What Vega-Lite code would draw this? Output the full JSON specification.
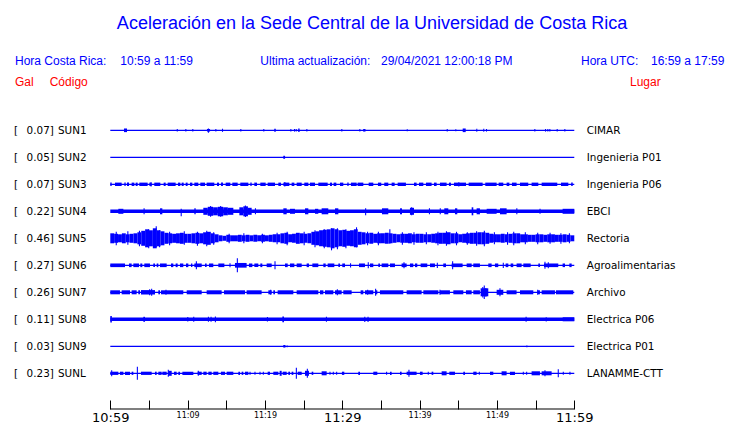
{
"$schema":"https://vega.github.io/schema/vega-lite/v6.json",
"width":740,"height":423,"autosize":{"type":"none"},"padding":0,"background":"white",
"config":{"view":{"stroke":null},"text":{"font":"DejaVu Sans"}},
"datasets":{
"one":[{}],
"sta":[{"s":"SUN1","peak":0.07,"lugar":"CIMAR"},{"s":"SUN2","peak":0.05,"lugar":"Ingenieria P01"},{"s":"SUN3","peak":0.07,"lugar":"Ingenieria P06"},{"s":"SUN4","peak":0.22,"lugar":"EBCI"},{"s":"SUN5","peak":0.46,"lugar":"Rectoria"},{"s":"SUN6","peak":0.27,"lugar":"Agroalimentarias"},{"s":"SUN7","peak":0.26,"lugar":"Archivo"},{"s":"SUN8","peak":0.11,"lugar":"Electrica P06"},{"s":"SUN9","peak":0.03,"lugar":"Electrica P01"},{"s":"SUNL","peak":0.23,"lugar":"LANAMME-CTT"}],
"tr":[
{"s":"SUN1","t0":0,"t1":60,"lo":-0.025,"hi":0.025},
{"s":"SUN1","t0":1.77,"t1":2.16,"lo":-0.07,"hi":0.07},
{"s":"SUN1","t0":8.59,"t1":8.73,"lo":-0.05,"hi":0.05},
{"s":"SUN1","t0":9.7,"t1":9.84,"lo":-0.05,"hi":0.05},
{"s":"SUN1","t0":10.6,"t1":10.74,"lo":-0.05,"hi":0.05},
{"s":"SUN1","t0":12.5,"t1":12.9,"lo":-0.05,"hi":0.05},
{"s":"SUN1","t0":12.62,"t1":12.76,"lo":-0.09,"hi":0.07},
{"s":"SUN1","t0":13.58,"t1":13.72,"lo":-0.05,"hi":0.05},
{"s":"SUN1","t0":14.44,"t1":14.58,"lo":-0.06,"hi":0.06},
{"s":"SUN1","t0":16.81,"t1":16.95,"lo":-0.05,"hi":0.05},
{"s":"SUN1","t0":19.78,"t1":19.92,"lo":-0.05,"hi":0.05},
{"s":"SUN1","t0":21.2,"t1":21.4,"lo":-0.06,"hi":0.06},
{"s":"SUN1","t0":23.28,"t1":23.42,"lo":-0.05,"hi":0.05},
{"s":"SUN1","t0":23.75,"t1":23.89,"lo":-0.05,"hi":0.05},
{"s":"SUN1","t0":23.97,"t1":24.11,"lo":-0.05,"hi":0.05},
{"s":"SUN1","t0":24.3,"t1":24.48,"lo":-0.07,"hi":0.07},
{"s":"SUN1","t0":25.35,"t1":25.49,"lo":-0.05,"hi":0.05},
{"s":"SUN1","t0":29.87,"t1":30.01,"lo":-0.05,"hi":0.05},
{"s":"SUN1","t0":32.2,"t1":32.34,"lo":-0.05,"hi":0.05},
{"s":"SUN1","t0":32.7,"t1":33.0,"lo":-0.05,"hi":0.05},
{"s":"SUN1","t0":38.33,"t1":38.47,"lo":-0.04,"hi":0.04},
{"s":"SUN1","t0":43.5,"t1":43.64,"lo":-0.05,"hi":0.05},
{"s":"SUN1","t0":44.61,"t1":44.75,"lo":-0.04,"hi":0.04},
{"s":"SUN1","t0":45.57,"t1":45.96,"lo":-0.07,"hi":0.07},
{"s":"SUN1","t0":47.33,"t1":47.46,"lo":-0.06,"hi":0.06},
{"s":"SUN1","t0":48.23,"t1":48.36,"lo":-0.06,"hi":0.06},
{"s":"SUN1","t0":48.58,"t1":48.72,"lo":-0.05,"hi":0.05},
{"s":"SUN1","t0":54.83,"t1":54.97,"lo":-0.05,"hi":0.05},
{"s":"SUN1","t0":56.21,"t1":56.35,"lo":-0.05,"hi":0.05},
{"s":"SUN1","t0":56.51,"t1":56.65,"lo":-0.05,"hi":0.05},
{"s":"SUN1","t0":56.77,"t1":56.91,"lo":-0.05,"hi":0.05},
{"s":"SUN1","t0":57.72,"t1":57.86,"lo":-0.05,"hi":0.05},
{"s":"SUN1","t0":58.71,"t1":58.85,"lo":-0.05,"hi":0.05},
{"s":"SUN2","t0":0,"t1":60,"lo":-0.025,"hi":0.025},
{"s":"SUN2","t0":22.37,"t1":22.6,"lo":-0.058,"hi":0.058},
{"s":"SUN3","t0":0,"t1":60,"lo":-0.025,"hi":0.025},
{"s":"SUN3","t0":0,"t1":0.18,"lo":-0.065,"hi":0.065},
{"s":"SUN3","t0":0.61,"t1":1.47,"lo":-0.065,"hi":0.065},
{"s":"SUN3","t0":1.82,"t1":1.99,"lo":-0.065,"hi":0.065},
{"s":"SUN3","t0":2.16,"t1":2.42,"lo":-0.065,"hi":0.065},
{"s":"SUN3","t0":2.76,"t1":3.11,"lo":-0.065,"hi":0.065},
{"s":"SUN3","t0":3.28,"t1":3.54,"lo":-0.065,"hi":0.065},
{"s":"SUN3","t0":3.75,"t1":4.83,"lo":-0.065,"hi":0.065},
{"s":"SUN3","t0":5.05,"t1":5.35,"lo":-0.065,"hi":0.065},
{"s":"SUN3","t0":5.2,"t1":5.34,"lo":-0.08,"hi":0.08},
{"s":"SUN3","t0":5.69,"t1":6.47,"lo":-0.065,"hi":0.065},
{"s":"SUN3","t0":6.9,"t1":7.16,"lo":-0.065,"hi":0.065},
{"s":"SUN3","t0":7.42,"t1":8.45,"lo":-0.065,"hi":0.065},
{"s":"SUN3","t0":8.76,"t1":9.06,"lo":-0.065,"hi":0.065},
{"s":"SUN3","t0":9.23,"t1":9.49,"lo":-0.065,"hi":0.065},
{"s":"SUN3","t0":9.75,"t1":10.0,"lo":-0.065,"hi":0.065},
{"s":"SUN3","t0":10.31,"t1":10.61,"lo":-0.065,"hi":0.065},
{"s":"SUN3","t0":10.87,"t1":11.38,"lo":-0.065,"hi":0.065},
{"s":"SUN3","t0":11.64,"t1":12.25,"lo":-0.065,"hi":0.065},
{"s":"SUN3","t0":12.46,"t1":13.45,"lo":-0.065,"hi":0.065},
{"s":"SUN3","t0":13.8,"t1":14.06,"lo":-0.065,"hi":0.065},
{"s":"SUN3","t0":14.32,"t1":14.57,"lo":-0.065,"hi":0.065},
{"s":"SUN3","t0":14.92,"t1":15.52,"lo":-0.065,"hi":0.065},
{"s":"SUN3","t0":15.78,"t1":16.47,"lo":-0.065,"hi":0.065},
{"s":"SUN3","t0":16.81,"t1":17.85,"lo":-0.065,"hi":0.065},
{"s":"SUN3","t0":18.11,"t1":18.28,"lo":-0.065,"hi":0.065},
{"s":"SUN3","t0":18.63,"t1":18.97,"lo":-0.065,"hi":0.065},
{"s":"SUN3","t0":19.4,"t1":20.09,"lo":-0.065,"hi":0.065},
{"s":"SUN3","t0":20.35,"t1":21.3,"lo":-0.065,"hi":0.065},
{"s":"SUN3","t0":21.73,"t1":22.07,"lo":-0.065,"hi":0.065},
{"s":"SUN3","t0":22.38,"t1":23.15,"lo":-0.065,"hi":0.065},
{"s":"SUN3","t0":22.5,"t1":22.64,"lo":-0.085,"hi":0.085},
{"s":"SUN3","t0":23.45,"t1":23.8,"lo":-0.065,"hi":0.065},
{"s":"SUN3","t0":24.1,"t1":24.75,"lo":-0.065,"hi":0.065},
{"s":"SUN3","t0":25.09,"t1":25.61,"lo":-0.065,"hi":0.065},
{"s":"SUN3","t0":25.82,"t1":26.47,"lo":-0.065,"hi":0.065},
{"s":"SUN3","t0":26.9,"t1":28.11,"lo":-0.065,"hi":0.065},
{"s":"SUN3","t0":28.41,"t1":28.67,"lo":-0.065,"hi":0.065},
{"s":"SUN3","t0":28.88,"t1":29.23,"lo":-0.065,"hi":0.065},
{"s":"SUN3","t0":29.7,"t1":30.13,"lo":-0.065,"hi":0.065},
{"s":"SUN3","t0":30.65,"t1":30.82,"lo":-0.065,"hi":0.065},
{"s":"SUN3","t0":31.12,"t1":31.86,"lo":-0.065,"hi":0.065},
{"s":"SUN3","t0":31.98,"t1":32.72,"lo":-0.065,"hi":0.065},
{"s":"SUN3","t0":33.41,"t1":34.01,"lo":-0.065,"hi":0.065},
{"s":"SUN3","t0":34.61,"t1":35.04,"lo":-0.065,"hi":0.065},
{"s":"SUN3","t0":35.43,"t1":35.95,"lo":-0.065,"hi":0.065},
{"s":"SUN3","t0":36.38,"t1":36.77,"lo":-0.065,"hi":0.065},
{"s":"SUN3","t0":37.16,"t1":38.23,"lo":-0.065,"hi":0.065},
{"s":"SUN3","t0":39.27,"t1":39.61,"lo":-0.065,"hi":0.065},
{"s":"SUN3","t0":39.92,"t1":40.48,"lo":-0.065,"hi":0.065},
{"s":"SUN3","t0":40.82,"t1":41.55,"lo":-0.065,"hi":0.065},
{"s":"SUN3","t0":41.86,"t1":42.2,"lo":-0.065,"hi":0.065},
{"s":"SUN3","t0":42.63,"t1":43.49,"lo":-0.065,"hi":0.065},
{"s":"SUN3","t0":43.79,"t1":44.05,"lo":-0.065,"hi":0.065},
{"s":"SUN3","t0":44.44,"t1":46.0,"lo":-0.065,"hi":0.065},
{"s":"SUN3","t0":45.0,"t1":45.14,"lo":-0.08,"hi":0.08},
{"s":"SUN3","t0":46.34,"t1":48.15,"lo":-0.065,"hi":0.065},
{"s":"SUN3","t0":48.49,"t1":49.96,"lo":-0.065,"hi":0.065},
{"s":"SUN3","t0":50.22,"t1":50.82,"lo":-0.065,"hi":0.065},
{"s":"SUN3","t0":51.25,"t1":51.6,"lo":-0.065,"hi":0.065},
{"s":"SUN3","t0":51.94,"t1":52.54,"lo":-0.065,"hi":0.065},
{"s":"SUN3","t0":52.98,"t1":54.05,"lo":-0.065,"hi":0.065},
{"s":"SUN3","t0":54.48,"t1":55.35,"lo":-0.065,"hi":0.065},
{"s":"SUN3","t0":55.78,"t1":57.8,"lo":-0.065,"hi":0.065},
{"s":"SUN3","t0":58.28,"t1":59.23,"lo":-0.065,"hi":0.065},
{"s":"SUN3","t0":59.6,"t1":59.8,"lo":-0.065,"hi":0.065},
{"s":"SUN4","t0":0,"t1":60,"lo":-0.065,"hi":0.065},
{"s":"SUN4","t0":1.04,"t1":1.69,"lo":-0.096,"hi":0.096},
{"s":"SUN4","t0":4.3,"t1":4.44,"lo":-0.115,"hi":0.115},
{"s":"SUN4","t0":6.43,"t1":6.73,"lo":-0.115,"hi":0.115},
{"s":"SUN4","t0":9.1,"t1":9.24,"lo":-0.192,"hi":0.1},
{"s":"SUN4","t0":10.87,"t1":11.04,"lo":-0.115,"hi":0.115},
{"s":"SUN4","t0":12.03,"t1":12.6,"lo":-0.135,"hi":0.135},
{"s":"SUN4","t0":12.6,"t1":13.3,"lo":-0.173,"hi":0.173},
{"s":"SUN4","t0":13.3,"t1":13.9,"lo":-0.154,"hi":0.154},
{"s":"SUN4","t0":13.9,"t1":14.6,"lo":-0.192,"hi":0.173},
{"s":"SUN4","t0":14.6,"t1":15.2,"lo":-0.154,"hi":0.154},
{"s":"SUN4","t0":15.2,"t1":15.91,"lo":-0.135,"hi":0.135},
{"s":"SUN4","t0":12.9,"t1":13.04,"lo":-0.212,"hi":0.2},
{"s":"SUN4","t0":14.2,"t1":14.34,"lo":-0.212,"hi":0.2},
{"s":"SUN4","t0":16.69,"t1":17.2,"lo":-0.154,"hi":0.154},
{"s":"SUN4","t0":17.2,"t1":17.8,"lo":-0.192,"hi":0.192},
{"s":"SUN4","t0":17.8,"t1":18.28,"lo":-0.135,"hi":0.135},
{"s":"SUN4","t0":17.4,"t1":17.54,"lo":-0.22,"hi":0.22},
{"s":"SUN4","t0":18.7,"t1":18.84,"lo":-0.115,"hi":0.115},
{"s":"SUN4","t0":22.38,"t1":22.81,"lo":-0.115,"hi":0.115},
{"s":"SUN4","t0":23.24,"t1":23.88,"lo":-0.096,"hi":0.096},
{"s":"SUN4","t0":25.18,"t1":25.61,"lo":-0.115,"hi":0.115},
{"s":"SUN4","t0":26.47,"t1":26.9,"lo":-0.096,"hi":0.096},
{"s":"SUN4","t0":27.33,"t1":28.19,"lo":-0.115,"hi":0.115},
{"s":"SUN4","t0":29.06,"t1":29.49,"lo":-0.115,"hi":0.115},
{"s":"SUN4","t0":32.95,"t1":33.09,"lo":-0.154,"hi":0.115},
{"s":"SUN4","t0":35.13,"t1":35.95,"lo":-0.115,"hi":0.115},
{"s":"SUN4","t0":37.46,"t1":37.72,"lo":-0.115,"hi":0.115},
{"s":"SUN4","t0":38.75,"t1":39.27,"lo":-0.135,"hi":0.135},
{"s":"SUN4","t0":38.9,"t1":39.04,"lo":-0.154,"hi":0.154},
{"s":"SUN4","t0":41.2,"t1":41.34,"lo":-0.115,"hi":0.115},
{"s":"SUN4","t0":42.6,"t1":42.74,"lo":-0.115,"hi":0.115},
{"s":"SUN4","t0":43.19,"t1":43.71,"lo":-0.115,"hi":0.115},
{"s":"SUN4","t0":44.57,"t1":44.87,"lo":-0.115,"hi":0.115},
{"s":"SUN4","t0":46.73,"t1":46.94,"lo":-0.154,"hi":0.154},
{"s":"SUN4","t0":47.37,"t1":47.8,"lo":-0.115,"hi":0.115},
{"s":"SUN4","t0":48.67,"t1":49.96,"lo":-0.096,"hi":0.096},
{"s":"SUN4","t0":50.39,"t1":51.25,"lo":-0.115,"hi":0.115},
{"s":"SUN4","t0":52.5,"t1":52.64,"lo":-0.115,"hi":0.115},
{"s":"SUN4","t0":55.5,"t1":55.64,"lo":-0.096,"hi":0.096},
{"s":"SUN4","t0":58.49,"t1":60,"lo":-0.096,"hi":0.096},
{"s":"SUN5","t0":0,"t1":0.5,"lo":-0.192,"hi":0.192},
{"s":"SUN5","t0":0.5,"t1":1,"lo":-0.173,"hi":0.173},
{"s":"SUN5","t0":1,"t1":1.5,"lo":-0.154,"hi":0.154},
{"s":"SUN5","t0":1.5,"t1":2,"lo":-0.192,"hi":0.192},
{"s":"SUN5","t0":2,"t1":2.5,"lo":-0.154,"hi":0.154},
{"s":"SUN5","t0":2.5,"t1":3,"lo":-0.173,"hi":0.173},
{"s":"SUN5","t0":3,"t1":3.5,"lo":-0.192,"hi":0.192},
{"s":"SUN5","t0":3.5,"t1":4,"lo":-0.231,"hi":0.231},
{"s":"SUN5","t0":4,"t1":4.5,"lo":-0.288,"hi":0.288},
{"s":"SUN5","t0":4.5,"t1":5,"lo":-0.346,"hi":0.346},
{"s":"SUN5","t0":5,"t1":5.5,"lo":-0.308,"hi":0.308},
{"s":"SUN5","t0":5.5,"t1":6,"lo":-0.385,"hi":0.385},
{"s":"SUN5","t0":6,"t1":6.5,"lo":-0.308,"hi":0.308},
{"s":"SUN5","t0":6.5,"t1":7,"lo":-0.269,"hi":0.269},
{"s":"SUN5","t0":7,"t1":7.5,"lo":-0.212,"hi":0.212},
{"s":"SUN5","t0":7.5,"t1":8,"lo":-0.192,"hi":0.192},
{"s":"SUN5","t0":8,"t1":8.5,"lo":-0.173,"hi":0.173},
{"s":"SUN5","t0":8.5,"t1":9,"lo":-0.192,"hi":0.192},
{"s":"SUN5","t0":9,"t1":9.5,"lo":-0.212,"hi":0.212},
{"s":"SUN5","t0":9.5,"t1":10,"lo":-0.173,"hi":0.173},
{"s":"SUN5","t0":10,"t1":10.5,"lo":-0.173,"hi":0.173},
{"s":"SUN5","t0":10.5,"t1":11,"lo":-0.192,"hi":0.192},
{"s":"SUN5","t0":11,"t1":11.5,"lo":-0.212,"hi":0.212},
{"s":"SUN5","t0":11.5,"t1":12,"lo":-0.192,"hi":0.192},
{"s":"SUN5","t0":12,"t1":12.5,"lo":-0.231,"hi":0.231},
{"s":"SUN5","t0":12.5,"t1":13,"lo":-0.25,"hi":0.25},
{"s":"SUN5","t0":13,"t1":13.5,"lo":-0.192,"hi":0.192},
{"s":"SUN5","t0":13.5,"t1":14,"lo":-0.154,"hi":0.154},
{"s":"SUN5","t0":14,"t1":14.5,"lo":-0.115,"hi":0.115},
{"s":"SUN5","t0":14.5,"t1":15,"lo":-0.096,"hi":0.096},
{"s":"SUN5","t0":15,"t1":15.5,"lo":-0.135,"hi":0.135},
{"s":"SUN5","t0":15.5,"t1":16,"lo":-0.115,"hi":0.115},
{"s":"SUN5","t0":16,"t1":16.5,"lo":-0.115,"hi":0.115},
{"s":"SUN5","t0":16.5,"t1":17,"lo":-0.135,"hi":0.135},
{"s":"SUN5","t0":17,"t1":17.5,"lo":-0.115,"hi":0.115},
{"s":"SUN5","t0":17.5,"t1":18,"lo":-0.135,"hi":0.135},
{"s":"SUN5","t0":18,"t1":18.5,"lo":-0.115,"hi":0.115},
{"s":"SUN5","t0":18.5,"t1":19,"lo":-0.135,"hi":0.135},
{"s":"SUN5","t0":19,"t1":19.5,"lo":-0.115,"hi":0.115},
{"s":"SUN5","t0":19.5,"t1":20,"lo":-0.135,"hi":0.135},
{"s":"SUN5","t0":20,"t1":20.5,"lo":-0.115,"hi":0.115},
{"s":"SUN5","t0":20.5,"t1":21,"lo":-0.135,"hi":0.135},
{"s":"SUN5","t0":21,"t1":21.5,"lo":-0.154,"hi":0.154},
{"s":"SUN5","t0":21.5,"t1":22,"lo":-0.154,"hi":0.154},
{"s":"SUN5","t0":22,"t1":22.5,"lo":-0.192,"hi":0.192},
{"s":"SUN5","t0":22.5,"t1":23,"lo":-0.212,"hi":0.212},
{"s":"SUN5","t0":23,"t1":23.5,"lo":-0.154,"hi":0.154},
{"s":"SUN5","t0":23.5,"t1":24,"lo":-0.173,"hi":0.173},
{"s":"SUN5","t0":24,"t1":24.5,"lo":-0.212,"hi":0.212},
{"s":"SUN5","t0":24.5,"t1":25,"lo":-0.192,"hi":0.192},
{"s":"SUN5","t0":25,"t1":25.5,"lo":-0.173,"hi":0.173},
{"s":"SUN5","t0":25.5,"t1":26,"lo":-0.192,"hi":0.192},
{"s":"SUN5","t0":26,"t1":26.5,"lo":-0.25,"hi":0.25},
{"s":"SUN5","t0":26.5,"t1":27,"lo":-0.269,"hi":0.269},
{"s":"SUN5","t0":27,"t1":27.5,"lo":-0.308,"hi":0.308},
{"s":"SUN5","t0":27.5,"t1":28,"lo":-0.327,"hi":0.327},
{"s":"SUN5","t0":28,"t1":28.5,"lo":-0.346,"hi":0.346},
{"s":"SUN5","t0":28.5,"t1":29,"lo":-0.385,"hi":0.385},
{"s":"SUN5","t0":29,"t1":29.5,"lo":-0.346,"hi":0.346},
{"s":"SUN5","t0":29.5,"t1":30,"lo":-0.308,"hi":0.308},
{"s":"SUN5","t0":30,"t1":30.5,"lo":-0.327,"hi":0.327},
{"s":"SUN5","t0":30.5,"t1":31,"lo":-0.288,"hi":0.288},
{"s":"SUN5","t0":31,"t1":31.5,"lo":-0.308,"hi":0.308},
{"s":"SUN5","t0":31.5,"t1":32,"lo":-0.346,"hi":0.346},
{"s":"SUN5","t0":32,"t1":32.5,"lo":-0.25,"hi":0.25},
{"s":"SUN5","t0":32.5,"t1":33,"lo":-0.231,"hi":0.231},
{"s":"SUN5","t0":33,"t1":33.5,"lo":-0.192,"hi":0.192},
{"s":"SUN5","t0":33.5,"t1":34,"lo":-0.212,"hi":0.212},
{"s":"SUN5","t0":34,"t1":34.5,"lo":-0.173,"hi":0.173},
{"s":"SUN5","t0":34.5,"t1":35,"lo":-0.192,"hi":0.192},
{"s":"SUN5","t0":35,"t1":35.5,"lo":-0.192,"hi":0.192},
{"s":"SUN5","t0":35.5,"t1":36,"lo":-0.212,"hi":0.212},
{"s":"SUN5","t0":36,"t1":36.5,"lo":-0.192,"hi":0.192},
{"s":"SUN5","t0":36.5,"t1":37,"lo":-0.173,"hi":0.173},
{"s":"SUN5","t0":37,"t1":37.5,"lo":-0.154,"hi":0.154},
{"s":"SUN5","t0":37.5,"t1":38,"lo":-0.173,"hi":0.173},
{"s":"SUN5","t0":38,"t1":38.5,"lo":-0.173,"hi":0.173},
{"s":"SUN5","t0":38.5,"t1":39,"lo":-0.192,"hi":0.192},
{"s":"SUN5","t0":39,"t1":39.5,"lo":-0.154,"hi":0.154},
{"s":"SUN5","t0":39.5,"t1":40,"lo":-0.173,"hi":0.173},
{"s":"SUN5","t0":40,"t1":40.5,"lo":-0.173,"hi":0.173},
{"s":"SUN5","t0":40.5,"t1":41,"lo":-0.154,"hi":0.154},
{"s":"SUN5","t0":41,"t1":41.5,"lo":-0.154,"hi":0.154},
{"s":"SUN5","t0":41.5,"t1":42,"lo":-0.173,"hi":0.173},
{"s":"SUN5","t0":42,"t1":42.5,"lo":-0.192,"hi":0.192},
{"s":"SUN5","t0":42.5,"t1":43,"lo":-0.212,"hi":0.212},
{"s":"SUN5","t0":43,"t1":43.5,"lo":-0.212,"hi":0.212},
{"s":"SUN5","t0":43.5,"t1":44,"lo":-0.231,"hi":0.231},
{"s":"SUN5","t0":44,"t1":44.5,"lo":-0.192,"hi":0.192},
{"s":"SUN5","t0":44.5,"t1":45,"lo":-0.192,"hi":0.192},
{"s":"SUN5","t0":45,"t1":45.5,"lo":-0.154,"hi":0.154},
{"s":"SUN5","t0":45.5,"t1":46,"lo":-0.173,"hi":0.173},
{"s":"SUN5","t0":46,"t1":46.5,"lo":-0.192,"hi":0.192},
{"s":"SUN5","t0":46.5,"t1":47,"lo":-0.212,"hi":0.212},
{"s":"SUN5","t0":47,"t1":47.5,"lo":-0.212,"hi":0.212},
{"s":"SUN5","t0":47.5,"t1":48,"lo":-0.231,"hi":0.231},
{"s":"SUN5","t0":48,"t1":48.5,"lo":-0.231,"hi":0.231},
{"s":"SUN5","t0":48.5,"t1":49,"lo":-0.212,"hi":0.212},
{"s":"SUN5","t0":49,"t1":49.5,"lo":-0.173,"hi":0.173},
{"s":"SUN5","t0":49.5,"t1":50,"lo":-0.154,"hi":0.154},
{"s":"SUN5","t0":50,"t1":50.5,"lo":-0.154,"hi":0.154},
{"s":"SUN5","t0":50.5,"t1":51,"lo":-0.173,"hi":0.173},
{"s":"SUN5","t0":51,"t1":51.5,"lo":-0.154,"hi":0.154},
{"s":"SUN5","t0":51.5,"t1":52,"lo":-0.173,"hi":0.173},
{"s":"SUN5","t0":52,"t1":52.5,"lo":-0.192,"hi":0.192},
{"s":"SUN5","t0":52.5,"t1":53,"lo":-0.192,"hi":0.192},
{"s":"SUN5","t0":53,"t1":53.5,"lo":-0.154,"hi":0.154},
{"s":"SUN5","t0":53.5,"t1":54,"lo":-0.154,"hi":0.154},
{"s":"SUN5","t0":54,"t1":54.5,"lo":-0.135,"hi":0.135},
{"s":"SUN5","t0":54.5,"t1":55,"lo":-0.135,"hi":0.135},
{"s":"SUN5","t0":55,"t1":55.5,"lo":-0.154,"hi":0.154},
{"s":"SUN5","t0":55.5,"t1":56,"lo":-0.154,"hi":0.154},
{"s":"SUN5","t0":56,"t1":56.5,"lo":-0.135,"hi":0.135},
{"s":"SUN5","t0":56.5,"t1":57,"lo":-0.154,"hi":0.154},
{"s":"SUN5","t0":57,"t1":57.5,"lo":-0.154,"hi":0.154},
{"s":"SUN5","t0":57.5,"t1":58,"lo":-0.135,"hi":0.135},
{"s":"SUN5","t0":58,"t1":58.5,"lo":-0.135,"hi":0.135},
{"s":"SUN5","t0":58.5,"t1":59,"lo":-0.154,"hi":0.154},
{"s":"SUN5","t0":59,"t1":59.5,"lo":-0.135,"hi":0.135},
{"s":"SUN5","t0":59.5,"t1":60,"lo":-0.115,"hi":0.115},
{"s":"SUN5","t0":0.7,"t1":0.84,"lo":-0.269,"hi":0.25},
{"s":"SUN5","t0":2.2,"t1":2.34,"lo":-0.25,"hi":0.269},
{"s":"SUN5","t0":3.7,"t1":3.84,"lo":-0.308,"hi":0.288},
{"s":"SUN5","t0":4.9,"t1":5.04,"lo":-0.385,"hi":0.346},
{"s":"SUN5","t0":5.87,"t1":6.01,"lo":-0.346,"hi":0.462},
{"s":"SUN5","t0":6.3,"t1":6.44,"lo":-0.346,"hi":0.308},
{"s":"SUN5","t0":7.6,"t1":7.74,"lo":-0.269,"hi":0.25},
{"s":"SUN5","t0":9.5,"t1":9.64,"lo":-0.25,"hi":0.269},
{"s":"SUN5","t0":11.2,"t1":11.34,"lo":-0.288,"hi":0.25},
{"s":"SUN5","t0":12.4,"t1":12.54,"lo":-0.308,"hi":0.288},
{"s":"SUN5","t0":13.3,"t1":13.44,"lo":-0.25,"hi":0.231},
{"s":"SUN5","t0":15.3,"t1":15.44,"lo":-0.192,"hi":0.173},
{"s":"SUN5","t0":17.2,"t1":17.34,"lo":-0.192,"hi":0.192},
{"s":"SUN5","t0":19.6,"t1":19.74,"lo":-0.192,"hi":0.173},
{"s":"SUN5","t0":21.5,"t1":21.64,"lo":-0.231,"hi":0.212},
{"s":"SUN5","t0":22.8,"t1":22.94,"lo":-0.269,"hi":0.25},
{"s":"SUN5","t0":25.0,"t1":25.14,"lo":-0.269,"hi":0.25},
{"s":"SUN5","t0":26.4,"t1":26.54,"lo":-0.346,"hi":0.308},
{"s":"SUN5","t0":27.6,"t1":27.74,"lo":-0.385,"hi":0.346},
{"s":"SUN5","t0":28.54,"t1":28.68,"lo":-0.462,"hi":0.385},
{"s":"SUN5","t0":29.3,"t1":29.44,"lo":-0.423,"hi":0.385},
{"s":"SUN5","t0":30.4,"t1":30.54,"lo":-0.385,"hi":0.346},
{"s":"SUN5","t0":31.77,"t1":31.91,"lo":-0.346,"hi":0.423},
{"s":"SUN5","t0":33.2,"t1":33.34,"lo":-0.269,"hi":0.25},
{"s":"SUN5","t0":34.6,"t1":34.74,"lo":-0.269,"hi":0.25},
{"s":"SUN5","t0":36.08,"t1":36.22,"lo":-0.212,"hi":0.346},
{"s":"SUN5","t0":37.7,"t1":37.84,"lo":-0.25,"hi":0.231},
{"s":"SUN5","t0":39.2,"t1":39.34,"lo":-0.25,"hi":0.231},
{"s":"SUN5","t0":40.8,"t1":40.94,"lo":-0.231,"hi":0.231},
{"s":"SUN5","t0":42.3,"t1":42.44,"lo":-0.269,"hi":0.25},
{"s":"SUN5","t0":43.4,"t1":43.54,"lo":-0.288,"hi":0.269},
{"s":"SUN5","t0":44.7,"t1":44.84,"lo":-0.269,"hi":0.25},
{"s":"SUN5","t0":46.1,"t1":46.24,"lo":-0.25,"hi":0.231},
{"s":"SUN5","t0":47.3,"t1":47.44,"lo":-0.288,"hi":0.269},
{"s":"SUN5","t0":48.3,"t1":48.44,"lo":-0.308,"hi":0.288},
{"s":"SUN5","t0":49.6,"t1":49.74,"lo":-0.231,"hi":0.231},
{"s":"SUN5","t0":51.3,"t1":51.44,"lo":-0.25,"hi":0.231},
{"s":"SUN5","t0":52.1,"t1":52.24,"lo":-0.269,"hi":0.25},
{"s":"SUN5","t0":53.6,"t1":53.74,"lo":-0.231,"hi":0.231},
{"s":"SUN5","t0":55.2,"t1":55.34,"lo":-0.231,"hi":0.212},
{"s":"SUN5","t0":56.8,"t1":56.94,"lo":-0.212,"hi":0.212},
{"s":"SUN5","t0":58.2,"t1":58.34,"lo":-0.212,"hi":0.192},
{"s":"SUN5","t0":59.3,"t1":59.44,"lo":-0.192,"hi":0.192},
{"s":"SUN6","t0":0,"t1":60,"lo":-0.025,"hi":0.025},
{"s":"SUN6","t0":0,"t1":1.9,"lo":-0.07,"hi":0.07},
{"s":"SUN6","t0":2.42,"t1":2.76,"lo":-0.07,"hi":0.07},
{"s":"SUN6","t0":2.98,"t1":3.71,"lo":-0.07,"hi":0.07},
{"s":"SUN6","t0":3.88,"t1":4.14,"lo":-0.07,"hi":0.07},
{"s":"SUN6","t0":4.4,"t1":5.13,"lo":-0.07,"hi":0.07},
{"s":"SUN6","t0":5.56,"t1":5.78,"lo":-0.07,"hi":0.07},
{"s":"SUN6","t0":6.0,"t1":6.21,"lo":-0.07,"hi":0.07},
{"s":"SUN6","t0":6.43,"t1":7.29,"lo":-0.07,"hi":0.07},
{"s":"SUN6","t0":7.85,"t1":8.15,"lo":-0.07,"hi":0.07},
{"s":"SUN6","t0":8.45,"t1":8.71,"lo":-0.07,"hi":0.07},
{"s":"SUN6","t0":9.01,"t1":9.44,"lo":-0.07,"hi":0.07},
{"s":"SUN6","t0":9.79,"t1":10.09,"lo":-0.07,"hi":0.07},
{"s":"SUN6","t0":10.44,"t1":10.61,"lo":-0.07,"hi":0.07},
{"s":"SUN6","t0":10.87,"t1":11.82,"lo":-0.07,"hi":0.07},
{"s":"SUN6","t0":12.25,"t1":12.46,"lo":-0.07,"hi":0.07},
{"s":"SUN6","t0":12.76,"t1":13.32,"lo":-0.07,"hi":0.07},
{"s":"SUN6","t0":13.97,"t1":14.75,"lo":-0.07,"hi":0.07},
{"s":"SUN6","t0":16.12,"t1":17.63,"lo":-0.09,"hi":0.09},
{"s":"SUN6","t0":17.93,"t1":18.37,"lo":-0.07,"hi":0.07},
{"s":"SUN6","t0":18.63,"t1":19.14,"lo":-0.07,"hi":0.07},
{"s":"SUN6","t0":19.4,"t1":19.66,"lo":-0.07,"hi":0.07},
{"s":"SUN6","t0":20.22,"t1":20.87,"lo":-0.07,"hi":0.07},
{"s":"SUN6","t0":22.59,"t1":22.94,"lo":-0.07,"hi":0.07},
{"s":"SUN6","t0":23.24,"t1":23.8,"lo":-0.07,"hi":0.07},
{"s":"SUN6","t0":24.1,"t1":24.75,"lo":-0.07,"hi":0.07},
{"s":"SUN6","t0":25.39,"t1":25.69,"lo":-0.07,"hi":0.07},
{"s":"SUN6","t0":26.13,"t1":26.9,"lo":-0.07,"hi":0.07},
{"s":"SUN6","t0":27.55,"t1":27.85,"lo":-0.07,"hi":0.07},
{"s":"SUN6","t0":28.11,"t1":28.97,"lo":-0.07,"hi":0.07},
{"s":"SUN6","t0":29.49,"t1":29.7,"lo":-0.07,"hi":0.07},
{"s":"SUN6","t0":30.0,"t1":30.35,"lo":-0.07,"hi":0.07},
{"s":"SUN6","t0":32.16,"t1":32.93,"lo":-0.07,"hi":0.07},
{"s":"SUN6","t0":33.58,"t1":34.01,"lo":-0.07,"hi":0.07},
{"s":"SUN6","t0":34.66,"t1":34.87,"lo":-0.07,"hi":0.07},
{"s":"SUN6","t0":35.09,"t1":35.95,"lo":-0.07,"hi":0.07},
{"s":"SUN6","t0":36.17,"t1":36.81,"lo":-0.07,"hi":0.07},
{"s":"SUN6","t0":37.67,"t1":38.32,"lo":-0.07,"hi":0.07},
{"s":"SUN6","t0":38.75,"t1":39.18,"lo":-0.07,"hi":0.07},
{"s":"SUN6","t0":39.4,"t1":39.7,"lo":-0.07,"hi":0.07},
{"s":"SUN6","t0":40.13,"t1":40.99,"lo":-0.07,"hi":0.07},
{"s":"SUN6","t0":41.34,"t1":41.98,"lo":-0.07,"hi":0.07},
{"s":"SUN6","t0":43.06,"t1":43.41,"lo":-0.07,"hi":0.07},
{"s":"SUN6","t0":44.14,"t1":45.56,"lo":-0.07,"hi":0.07},
{"s":"SUN6","t0":46.08,"t1":46.73,"lo":-0.07,"hi":0.07},
{"s":"SUN6","t0":46.94,"t1":47.8,"lo":-0.07,"hi":0.07},
{"s":"SUN6","t0":48.88,"t1":49.31,"lo":-0.07,"hi":0.07},
{"s":"SUN6","t0":49.74,"t1":50.17,"lo":-0.07,"hi":0.07},
{"s":"SUN6","t0":51.12,"t1":51.47,"lo":-0.07,"hi":0.07},
{"s":"SUN6","t0":51.77,"t1":52.11,"lo":-0.07,"hi":0.07},
{"s":"SUN6","t0":52.54,"t1":53.19,"lo":-0.07,"hi":0.07},
{"s":"SUN6","t0":53.41,"t1":54.36,"lo":-0.07,"hi":0.07},
{"s":"SUN6","t0":55.35,"t1":55.56,"lo":-0.07,"hi":0.07},
{"s":"SUN6","t0":56.08,"t1":57.93,"lo":-0.07,"hi":0.07},
{"s":"SUN6","t0":58.49,"t1":58.8,"lo":-0.07,"hi":0.07},
{"s":"SUN6","t0":59.36,"t1":59.66,"lo":-0.07,"hi":0.07},
{"s":"SUN6","t0":11.06,"t1":11.2,"lo":-0.154,"hi":0.154},
{"s":"SUN6","t0":15.41,"t1":15.55,"lo":-0.077,"hi":0.077},
{"s":"SUN6","t0":16.36,"t1":16.5,"lo":-0.27,"hi":0.27},
{"s":"SUN6","t0":21.23,"t1":21.37,"lo":-0.154,"hi":0.154},
{"s":"SUN6","t0":31.0,"t1":31.14,"lo":-0.08,"hi":0.08},
{"s":"SUN6","t0":33.29,"t1":33.43,"lo":-0.115,"hi":0.115},
{"s":"SUN6","t0":37.91,"t1":38.05,"lo":-0.115,"hi":0.115},
{"s":"SUN6","t0":42.22,"t1":42.36,"lo":-0.1,"hi":0.1},
{"s":"SUN6","t0":44.2,"t1":44.34,"lo":-0.154,"hi":0.154},
{"s":"SUN6","t0":50.75,"t1":50.89,"lo":-0.1,"hi":0.1},
{"s":"SUN6","t0":56.14,"t1":56.28,"lo":-0.135,"hi":0.135},
{"s":"SUN6","t0":56.57,"t1":56.71,"lo":-0.115,"hi":0.115},
{"s":"SUN7","t0":0,"t1":60,"lo":-0.025,"hi":0.025},
{"s":"SUN7","t0":0,"t1":1.25,"lo":-0.077,"hi":0.077},
{"s":"SUN7","t0":1.47,"t1":2.55,"lo":-0.077,"hi":0.077},
{"s":"SUN7","t0":2.76,"t1":3.41,"lo":-0.077,"hi":0.077},
{"s":"SUN7","t0":3.62,"t1":3.84,"lo":-0.077,"hi":0.077},
{"s":"SUN7","t0":3.97,"t1":5.78,"lo":-0.085,"hi":0.085},
{"s":"SUN7","t0":6.21,"t1":6.43,"lo":-0.077,"hi":0.077},
{"s":"SUN7","t0":6.56,"t1":9.44,"lo":-0.077,"hi":0.077},
{"s":"SUN7","t0":9.88,"t1":11.82,"lo":-0.077,"hi":0.077},
{"s":"SUN7","t0":12.46,"t1":14.4,"lo":-0.077,"hi":0.077},
{"s":"SUN7","t0":14.7,"t1":17.42,"lo":-0.077,"hi":0.077},
{"s":"SUN7","t0":17.63,"t1":19.57,"lo":-0.077,"hi":0.077},
{"s":"SUN7","t0":20.44,"t1":20.87,"lo":-0.077,"hi":0.077},
{"s":"SUN7","t0":21.08,"t1":21.3,"lo":-0.077,"hi":0.077},
{"s":"SUN7","t0":21.64,"t1":23.67,"lo":-0.077,"hi":0.077},
{"s":"SUN7","t0":24.1,"t1":26.9,"lo":-0.077,"hi":0.077},
{"s":"SUN7","t0":27.12,"t1":27.55,"lo":-0.077,"hi":0.077},
{"s":"SUN7","t0":27.76,"t1":28.84,"lo":-0.077,"hi":0.077},
{"s":"SUN7","t0":29.06,"t1":29.92,"lo":-0.077,"hi":0.077},
{"s":"SUN7","t0":30.13,"t1":31.21,"lo":-0.077,"hi":0.077},
{"s":"SUN7","t0":32.37,"t1":32.72,"lo":-0.077,"hi":0.077},
{"s":"SUN7","t0":32.93,"t1":34.01,"lo":-0.077,"hi":0.077},
{"s":"SUN7","t0":34.23,"t1":34.53,"lo":-0.077,"hi":0.077},
{"s":"SUN7","t0":34.87,"t1":37.89,"lo":-0.077,"hi":0.077},
{"s":"SUN7","t0":38.32,"t1":40.26,"lo":-0.077,"hi":0.077},
{"s":"SUN7","t0":40.48,"t1":42.42,"lo":-0.077,"hi":0.077},
{"s":"SUN7","t0":42.63,"t1":43.92,"lo":-0.077,"hi":0.077},
{"s":"SUN7","t0":44.36,"t1":45.65,"lo":-0.077,"hi":0.077},
{"s":"SUN7","t0":45.99,"t1":46.73,"lo":-0.077,"hi":0.077},
{"s":"SUN7","t0":46.94,"t1":47.8,"lo":-0.077,"hi":0.077},
{"s":"SUN7","t0":47.89,"t1":48.88,"lo":-0.154,"hi":0.154},
{"s":"SUN7","t0":49.96,"t1":50.82,"lo":-0.096,"hi":0.096},
{"s":"SUN7","t0":51.25,"t1":52.54,"lo":-0.077,"hi":0.077},
{"s":"SUN7","t0":52.98,"t1":54.7,"lo":-0.077,"hi":0.077},
{"s":"SUN7","t0":55.26,"t1":55.56,"lo":-0.077,"hi":0.077},
{"s":"SUN7","t0":55.78,"t1":57.5,"lo":-0.077,"hi":0.077},
{"s":"SUN7","t0":57.63,"t1":59.87,"lo":-0.077,"hi":0.077},
{"s":"SUN7","t0":5.02,"t1":5.16,"lo":-0.115,"hi":0.115},
{"s":"SUN7","t0":5.28,"t1":5.42,"lo":-0.135,"hi":0.135},
{"s":"SUN7","t0":7.13,"t1":7.27,"lo":-0.096,"hi":0.096},
{"s":"SUN7","t0":20.67,"t1":20.81,"lo":-0.096,"hi":0.096},
{"s":"SUN7","t0":29.29,"t1":29.43,"lo":-0.115,"hi":0.115},
{"s":"SUN7","t0":33.21,"t1":33.35,"lo":-0.096,"hi":0.096},
{"s":"SUN7","t0":34.24,"t1":34.38,"lo":-0.135,"hi":0.135},
{"s":"SUN7","t0":42.56,"t1":42.7,"lo":-0.096,"hi":0.096},
{"s":"SUN7","t0":48.1,"t1":48.24,"lo":-0.2,"hi":0.2},
{"s":"SUN7","t0":48.29,"t1":48.43,"lo":-0.26,"hi":0.26},
{"s":"SUN7","t0":48.5,"t1":48.64,"lo":-0.17,"hi":0.17},
{"s":"SUN7","t0":50.32,"t1":50.46,"lo":-0.154,"hi":0.154},
{"s":"SUN7","t0":55.2,"t1":55.34,"lo":-0.096,"hi":0.096},
{"s":"SUN8","t0":0,"t1":60,"lo":-0.069,"hi":0.069},
{"s":"SUN8","t0":0,"t1":0.2,"lo":-0.127,"hi":0.127},
{"s":"SUN8","t0":4.27,"t1":4.49,"lo":-0.096,"hi":0.096},
{"s":"SUN8","t0":9.95,"t1":10.09,"lo":-0.088,"hi":0.088},
{"s":"SUN8","t0":10.72,"t1":10.86,"lo":-0.096,"hi":0.096},
{"s":"SUN8","t0":12.62,"t1":12.76,"lo":-0.096,"hi":0.096},
{"s":"SUN8","t0":12.96,"t1":13.1,"lo":-0.096,"hi":0.096},
{"s":"SUN8","t0":13.52,"t1":13.66,"lo":-0.11,"hi":0.11},
{"s":"SUN8","t0":20.25,"t1":20.39,"lo":-0.088,"hi":0.088},
{"s":"SUN8","t0":22.25,"t1":22.46,"lo":-0.11,"hi":0.11},
{"s":"SUN8","t0":27.88,"t1":28.02,"lo":-0.096,"hi":0.096},
{"s":"SUN8","t0":32.84,"t1":32.98,"lo":-0.1,"hi":0.1},
{"s":"SUN8","t0":33.26,"t1":33.4,"lo":-0.1,"hi":0.1},
{"s":"SUN8","t0":53.7,"t1":53.84,"lo":-0.096,"hi":0.096},
{"s":"SUN8","t0":56.3,"t1":56.44,"lo":-0.08,"hi":0.08},
{"s":"SUN8","t0":58.5,"t1":60,"lo":-0.077,"hi":0.077},
{"s":"SUN9","t0":0,"t1":60,"lo":-0.025,"hi":0.025},
{"s":"SUN9","t0":22.37,"t1":22.65,"lo":-0.05,"hi":0.05},
{"s":"SUN9","t0":22.8,"t1":22.94,"lo":-0.035,"hi":0.035},
{"s":"SUN9","t0":53.8,"t1":53.94,"lo":-0.035,"hi":0.035},
{"s":"SUNL","t0":0,"t1":60,"lo":-0.025,"hi":0.025},
{"s":"SUNL","t0":0,"t1":1.04,"lo":-0.062,"hi":0.062},
{"s":"SUNL","t0":1.25,"t1":1.69,"lo":-0.062,"hi":0.062},
{"s":"SUNL","t0":1.9,"t1":2.55,"lo":-0.062,"hi":0.062},
{"s":"SUNL","t0":2.76,"t1":2.98,"lo":-0.062,"hi":0.062},
{"s":"SUNL","t0":3.97,"t1":5.35,"lo":-0.062,"hi":0.062},
{"s":"SUNL","t0":5.78,"t1":6.0,"lo":-0.062,"hi":0.062},
{"s":"SUNL","t0":6.21,"t1":6.64,"lo":-0.062,"hi":0.062},
{"s":"SUNL","t0":6.73,"t1":7.29,"lo":-0.062,"hi":0.062},
{"s":"SUNL","t0":7.5,"t1":7.94,"lo":-0.096,"hi":0.096},
{"s":"SUNL","t0":8.24,"t1":8.58,"lo":-0.062,"hi":0.062},
{"s":"SUNL","t0":8.8,"t1":9.01,"lo":-0.062,"hi":0.062},
{"s":"SUNL","t0":9.32,"t1":10.74,"lo":-0.062,"hi":0.062},
{"s":"SUNL","t0":11.3,"t1":11.82,"lo":-0.062,"hi":0.062},
{"s":"SUNL","t0":12.03,"t1":12.46,"lo":-0.062,"hi":0.062},
{"s":"SUNL","t0":12.68,"t1":13.11,"lo":-0.062,"hi":0.062},
{"s":"SUNL","t0":13.32,"t1":13.97,"lo":-0.062,"hi":0.062},
{"s":"SUNL","t0":14.31,"t1":14.83,"lo":-0.062,"hi":0.062},
{"s":"SUNL","t0":15.05,"t1":15.91,"lo":-0.062,"hi":0.062},
{"s":"SUNL","t0":16.56,"t1":16.77,"lo":-0.062,"hi":0.062},
{"s":"SUNL","t0":16.99,"t1":17.2,"lo":-0.062,"hi":0.062},
{"s":"SUNL","t0":17.42,"t1":17.85,"lo":-0.062,"hi":0.062},
{"s":"SUNL","t0":20.35,"t1":20.65,"lo":-0.062,"hi":0.062},
{"s":"SUNL","t0":21.08,"t1":21.73,"lo":-0.062,"hi":0.062},
{"s":"SUNL","t0":21.9,"t1":22.16,"lo":-0.096,"hi":0.096},
{"s":"SUNL","t0":22.29,"t1":22.81,"lo":-0.062,"hi":0.062},
{"s":"SUNL","t0":23.02,"t1":23.24,"lo":-0.062,"hi":0.062},
{"s":"SUNL","t0":23.45,"t1":23.67,"lo":-0.062,"hi":0.062},
{"s":"SUNL","t0":24.23,"t1":24.75,"lo":-0.062,"hi":0.062},
{"s":"SUNL","t0":25.18,"t1":25.69,"lo":-0.096,"hi":0.096},
{"s":"SUNL","t0":26.04,"t1":26.25,"lo":-0.062,"hi":0.062},
{"s":"SUNL","t0":27.33,"t1":27.98,"lo":-0.077,"hi":0.077},
{"s":"SUNL","t0":29.95,"t1":30.26,"lo":-0.062,"hi":0.062},
{"s":"SUNL","t0":32.07,"t1":32.29,"lo":-0.062,"hi":0.062},
{"s":"SUNL","t0":34.01,"t1":34.53,"lo":-0.062,"hi":0.062},
{"s":"SUNL","t0":36.17,"t1":36.38,"lo":-0.062,"hi":0.062},
{"s":"SUNL","t0":37.46,"t1":37.67,"lo":-0.062,"hi":0.062},
{"s":"SUNL","t0":38.32,"t1":39.61,"lo":-0.062,"hi":0.062},
{"s":"SUNL","t0":40.04,"t1":40.39,"lo":-0.062,"hi":0.062},
{"s":"SUNL","t0":41.55,"t1":41.77,"lo":-0.062,"hi":0.062},
{"s":"SUNL","t0":42.85,"t1":43.49,"lo":-0.077,"hi":0.077},
{"s":"SUNL","t0":43.84,"t1":44.57,"lo":-0.062,"hi":0.062},
{"s":"SUNL","t0":45.65,"t1":45.86,"lo":-0.062,"hi":0.062},
{"s":"SUNL","t0":46.94,"t1":47.37,"lo":-0.062,"hi":0.062},
{"s":"SUNL","t0":49.1,"t1":49.53,"lo":-0.062,"hi":0.062},
{"s":"SUNL","t0":50.6,"t1":51.25,"lo":-0.077,"hi":0.077},
{"s":"SUNL","t0":51.68,"t1":52.33,"lo":-0.062,"hi":0.062},
{"s":"SUNL","t0":54.48,"t1":55.56,"lo":-0.077,"hi":0.077},
{"s":"SUNL","t0":55.78,"t1":57.07,"lo":-0.077,"hi":0.077},
{"s":"SUNL","t0":0.11,"t1":0.25,"lo":-0.115,"hi":0.115},
{"s":"SUNL","t0":3.43,"t1":3.57,"lo":-0.25,"hi":0.25},
{"s":"SUNL","t0":7.43,"t1":7.57,"lo":-0.135,"hi":0.135},
{"s":"SUNL","t0":11.31,"t1":11.45,"lo":-0.096,"hi":0.096},
{"s":"SUNL","t0":18.0,"t1":18.14,"lo":-0.058,"hi":0.058},
{"s":"SUNL","t0":18.64,"t1":18.78,"lo":-0.058,"hi":0.058},
{"s":"SUNL","t0":19.29,"t1":19.43,"lo":-0.058,"hi":0.058},
{"s":"SUNL","t0":19.72,"t1":19.86,"lo":-0.058,"hi":0.058},
{"s":"SUNL","t0":23.99,"t1":24.13,"lo":-0.212,"hi":0.212},
{"s":"SUNL","t0":25.41,"t1":25.55,"lo":-0.173,"hi":0.173},
{"s":"SUNL","t0":28.34,"t1":28.48,"lo":-0.058,"hi":0.058},
{"s":"SUNL","t0":28.77,"t1":28.91,"lo":-0.058,"hi":0.058},
{"s":"SUNL","t0":29.2,"t1":29.34,"lo":-0.058,"hi":0.058},
{"s":"SUNL","t0":35.66,"t1":35.8,"lo":-0.058,"hi":0.058},
{"s":"SUNL","t0":38.55,"t1":38.69,"lo":-0.135,"hi":0.135},
{"s":"SUNL","t0":41.05,"t1":41.19,"lo":-0.058,"hi":0.058},
{"s":"SUNL","t0":47.65,"t1":47.79,"lo":-0.058,"hi":0.058},
{"s":"SUNL","t0":53.34,"t1":53.48,"lo":-0.058,"hi":0.058},
{"s":"SUNL","t0":53.77,"t1":53.91,"lo":-0.058,"hi":0.058},
{"s":"SUNL","t0":56.14,"t1":56.28,"lo":-0.115,"hi":0.115},
{"s":"SUNL","t0":57.86,"t1":58.0,"lo":-0.154,"hi":0.154},
{"s":"SUNL","t0":58.51,"t1":58.65,"lo":-0.058,"hi":0.058},
{"s":"SUNL","t0":59.37,"t1":59.51,"lo":-0.058,"hi":0.058}
]},
"layer":[
{"data":{"name":"tr"},"transform":[{"filter":"datum.s==='SUN1'"}],"mark":{"type":"rect","color":"#0000ff"},
 "encoding":{
  "x":{"field":"t0","type":"quantitative","scale":{"domain":[-14.263,81.43],"nice":false,"zero":false},
   "axis":{"values":[0,5,10,15,20,25,30,35,40,45,50,55,60],"domain":false,"grid":false,"title":null,"offset":-14,"tickSize":-9,"tickColor":"black","tickWidth":1,"labelPadding":11,"labelColor":"black","labelFont":"DejaVu Sans","labelOverlap":false,"labelFlush":false,"labelBound":false,
    "labelFontSize":{"condition":{"test":"datum.value % 30 === 0","value":13},"value":8},
    "labelExpr":"datum.value % 10 ? '' : (floor((659 + datum.value) / 60) + ':' + ((659 + datum.value) % 60 < 10 ? '0' : '') + ((659 + datum.value) % 60))"}},
  "x2":{"field":"t1"},
  "y":{"field":"lo","type":"quantitative","scale":{"domain":[-11.2577,5.0115],"nice":false,"zero":false},"axis":null},
  "y2":{"field":"hi"}}},
{"data":{"name":"tr"},"transform":[{"filter":"datum.s==='SUN2'"}],"mark":{"type":"rect","color":"#0000ff"},
 "encoding":{"x":{"field":"t0","type":"quantitative"},"x2":{"field":"t1"},
  "y":{"field":"lo","type":"quantitative","scale":{"domain":[-10.2192,6.05],"nice":false,"zero":false},"axis":null},"y2":{"field":"hi"}}},
{"data":{"name":"tr"},"transform":[{"filter":"datum.s==='SUN3'"}],"mark":{"type":"rect","color":"#0000ff"},
 "encoding":{"x":{"field":"t0","type":"quantitative"},"x2":{"field":"t1"},
  "y":{"field":"lo","type":"quantitative","scale":{"domain":[-9.1808,7.0885],"nice":false,"zero":false},"axis":null},"y2":{"field":"hi"}}},
{"data":{"name":"tr"},"transform":[{"filter":"datum.s==='SUN4'"}],"mark":{"type":"rect","color":"#0000ff"},
 "encoding":{"x":{"field":"t0","type":"quantitative"},"x2":{"field":"t1"},
  "y":{"field":"lo","type":"quantitative","scale":{"domain":[-8.1423,8.1269],"nice":false,"zero":false},"axis":null},"y2":{"field":"hi"}}},
{"data":{"name":"tr"},"transform":[{"filter":"datum.s==='SUN5'"}],"mark":{"type":"rect","color":"#0000ff"},
 "encoding":{"x":{"field":"t0","type":"quantitative"},"x2":{"field":"t1"},
  "y":{"field":"lo","type":"quantitative","scale":{"domain":[-7.1038,9.1654],"nice":false,"zero":false},"axis":null},"y2":{"field":"hi"}}},
{"data":{"name":"tr"},"transform":[{"filter":"datum.s==='SUN6'"}],"mark":{"type":"rect","color":"#0000ff"},
 "encoding":{"x":{"field":"t0","type":"quantitative"},"x2":{"field":"t1"},
  "y":{"field":"lo","type":"quantitative","scale":{"domain":[-6.0654,10.2038],"nice":false,"zero":false},"axis":null},"y2":{"field":"hi"}}},
{"data":{"name":"tr"},"transform":[{"filter":"datum.s==='SUN7'"}],"mark":{"type":"rect","color":"#0000ff"},
 "encoding":{"x":{"field":"t0","type":"quantitative"},"x2":{"field":"t1"},
  "y":{"field":"lo","type":"quantitative","scale":{"domain":[-5.0269,11.2423],"nice":false,"zero":false},"axis":null},"y2":{"field":"hi"}}},
{"data":{"name":"tr"},"transform":[{"filter":"datum.s==='SUN8'"}],"mark":{"type":"rect","color":"#0000ff"},
 "encoding":{"x":{"field":"t0","type":"quantitative"},"x2":{"field":"t1"},
  "y":{"field":"lo","type":"quantitative","scale":{"domain":[-3.9885,12.2808],"nice":false,"zero":false},"axis":null},"y2":{"field":"hi"}}},
{"data":{"name":"tr"},"transform":[{"filter":"datum.s==='SUN9'"}],"mark":{"type":"rect","color":"#0000ff"},
 "encoding":{"x":{"field":"t0","type":"quantitative"},"x2":{"field":"t1"},
  "y":{"field":"lo","type":"quantitative","scale":{"domain":[-2.95,13.3192],"nice":false,"zero":false},"axis":null},"y2":{"field":"hi"}}},
{"data":{"name":"tr"},"transform":[{"filter":"datum.s==='SUNL'"}],"mark":{"type":"rect","color":"#0000ff"},
 "encoding":{"x":{"field":"t0","type":"quantitative"},"x2":{"field":"t1"},
  "y":{"field":"lo","type":"quantitative","scale":{"domain":[-1.9115,14.3577],"nice":false,"zero":false},"axis":null},"y2":{"field":"hi"}}},
{"data":{"name":"sta"},
 "encoding":{"y":{"field":"s","type":"nominal","scale":{"type":"point","domain":["SUN1","SUN2","SUN3","SUN4","SUN5","SUN6","SUN7","SUN8","SUN9","SUNL"],"range":[130.8,373.8],"padding":0,"round":false},"axis":null}},
 "layer":[
  {"mark":{"type":"text","align":"left","baseline":"middle","fontSize":10.4,"color":"black"},"encoding":{"x":{"datum":-12.45,"type":"quantitative"},"text":{"value":"["}}},
  {"mark":{"type":"text","align":"left","baseline":"middle","fontSize":10.4,"color":"black"},"encoding":{"x":{"datum":-10.823,"type":"quantitative"},"text":{"field":"peak","type":"quantitative","format":".2f"}}},
  {"mark":{"type":"text","align":"left","baseline":"middle","fontSize":10.4,"color":"black"},"encoding":{"x":{"datum":-7.83,"type":"quantitative"},"text":{"value":"]"}}},
  {"mark":{"type":"text","align":"left","baseline":"middle","fontSize":10.4,"color":"black"},"encoding":{"x":{"datum":-6.77,"type":"quantitative"},"text":{"field":"s"}}},
  {"mark":{"type":"text","align":"left","baseline":"middle","fontSize":10.4,"color":"black"},"encoding":{"x":{"datum":61.617,"type":"quantitative"},"text":{"field":"lugar"}}}
 ]},
{"data":{"name":"one"},
 "layer":[
  {"mark":{"type":"text","align":"center","baseline":"middle","font":"Liberation Sans","fontSize":18,"color":"#0000ff"},
   "encoding":{"x":{"datum":33.844,"type":"quantitative"},"y":{"datum":-3.937,"type":"quantitative","scale":{"domain":[-4.8259,10.8407],"reverse":true,"nice":false,"zero":false},"axis":null},"text":{"value":"Aceleración en la Sede Central de la Universidad de Costa Rica"}}},
  {"mark":{"type":"text","align":"left","baseline":"middle","font":"Liberation Sans","fontSize":12,"color":"#0000ff"},
   "encoding":{"x":{"datum":-12.323,"type":"quantitative"},"y":{"datum":-2.559,"type":"quantitative"},"text":{"value":"Hora Costa Rica:"}}},
  {"mark":{"type":"text","align":"left","baseline":"middle","font":"Liberation Sans","fontSize":12,"color":"#0000ff"},
   "encoding":{"x":{"datum":1.3,"type":"quantitative"},"y":{"datum":-2.559,"type":"quantitative"},"text":{"value":"10:59 a 11:59"}}},
  {"mark":{"type":"text","align":"left","baseline":"middle","font":"Liberation Sans","fontSize":12,"color":"#0000ff"},
   "encoding":{"x":{"datum":19.4,"type":"quantitative"},"y":{"datum":-2.559,"type":"quantitative"},"text":{"value":"Ultima actualización:"}}},
  {"mark":{"type":"text","align":"left","baseline":"middle","font":"Liberation Sans","fontSize":12,"color":"#0000ff"},
   "encoding":{"x":{"datum":35.0,"type":"quantitative"},"y":{"datum":-2.559,"type":"quantitative"},"text":{"value":"29/04/2021 12:00:18 PM"}}},
  {"mark":{"type":"text","align":"left","baseline":"middle","font":"Liberation Sans","fontSize":12,"color":"#0000ff"},
   "encoding":{"x":{"datum":60.866,"type":"quantitative"},"y":{"datum":-2.559,"type":"quantitative"},"text":{"value":"Hora UTC:"}}},
  {"mark":{"type":"text","align":"left","baseline":"middle","font":"Liberation Sans","fontSize":12,"color":"#0000ff"},
   "encoding":{"x":{"datum":69.918,"type":"quantitative"},"y":{"datum":-2.559,"type":"quantitative"},"text":{"value":"16:59 a 17:59"}}},
  {"mark":{"type":"text","align":"left","baseline":"middle","font":"Liberation Sans","fontSize":12,"color":"#ff0000"},
   "encoding":{"x":{"datum":-12.323,"type":"quantitative"},"y":{"datum":-1.804,"type":"quantitative"},"text":{"value":"Gal"}}},
  {"mark":{"type":"text","align":"left","baseline":"middle","font":"Liberation Sans","fontSize":12,"color":"#ff0000"},
   "encoding":{"x":{"datum":-7.836,"type":"quantitative"},"y":{"datum":-1.804,"type":"quantitative"},"text":{"value":"Código"}}},
  {"mark":{"type":"text","align":"left","baseline":"middle","font":"Liberation Sans","fontSize":12,"color":"#ff0000"},
   "encoding":{"x":{"datum":67.202,"type":"quantitative"},"y":{"datum":-1.804,"type":"quantitative"},"text":{"value":"Lugar"}}},
  {"mark":{"type":"rule","color":"black","strokeWidth":1.2},
   "encoding":{"x":{"datum":0,"type":"quantitative"},"x2":{"datum":60},"y":{"datum":10.322,"type":"quantitative"}}}
 ]}
],
"resolve":{"scale":{"y":"independent"}}
}
